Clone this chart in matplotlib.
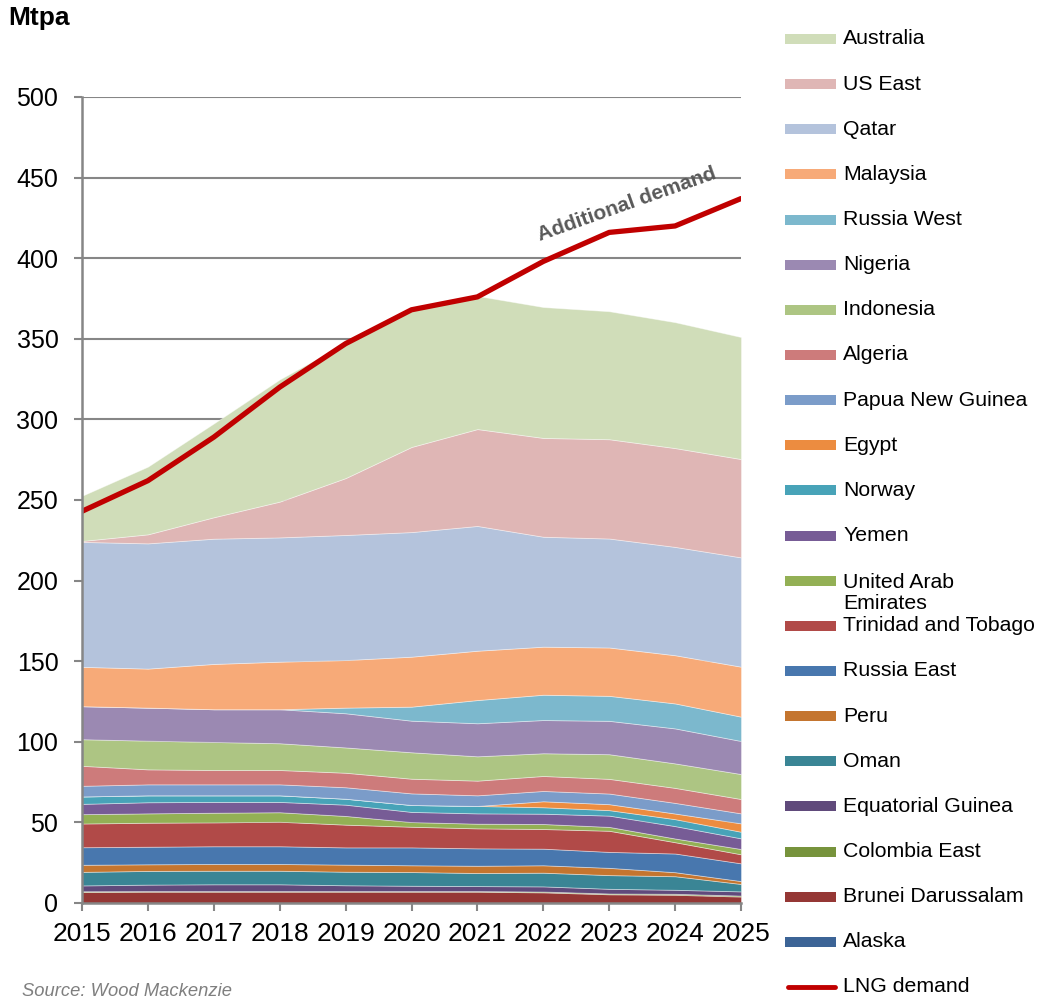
import matplotlib
matplotlib.use("Agg")
import matplotlib.pyplot as plt
from matplotlib.patches import Rectangle
from matplotlib.lines import Line2D

plt.rcParams['font.family'] = ['Liberation Sans', 'DejaVu Sans']

years = [2015, 2016, 2017, 2018, 2019, 2020, 2021, 2022, 2023, 2024, 2025]

# LNG supply by source (Mtpa), listed from the bottom of the stack upwards
alaska = [0, 0, 0, 0, 0, 0, 0, 0, 0, 0, 0]
brunei = [6.8, 7.0, 7.0, 7.0, 7.0, 7.0, 7.0, 6.6, 5.4, 5.1, 4.0]
colombia_east = [0.5, 0.4, 0.4, 0.4, 0.4, 0.4, 0.4, 0.5, 0.5, 0.6, 0.6]
equatorial_guinea = [3.6, 4.0, 4.2, 4.2, 3.6, 3.3, 3.1, 3.2, 2.9, 2.5, 2.6]
oman = [8.4, 8.5, 8.4, 8.4, 8.4, 8.5, 8.1, 8.5, 8.5, 8.4, 4.6]
peru = [4.4, 4.1, 4.2, 4.2, 4.4, 4.2, 4.5, 4.6, 4.5, 2.5, 1.8]
russia_east = [10.9, 10.9, 11.0, 11.0, 10.7, 11.1, 10.8, 10.3, 9.9, 11.6, 11.0]
trinidad = [14.7, 14.9, 14.8, 15.2, 14.1, 12.8, 12.4, 12.2, 13.1, 7.0, 5.6]
uae = [5.8, 5.8, 6.0, 5.9, 5.4, 2.9, 2.9, 3.1, 2.4, 2.3, 3.3]
yemen = [6.4, 6.9, 6.7, 6.4, 7.0, 6.3, 6.4, 6.4, 7.0, 7.7, 6.6]
norway = [4.6, 4.3, 4.1, 4.1, 3.7, 4.3, 4.6, 4.0, 3.4, 4.3, 4.1]
egypt = [0, 0, 0, 0, 0, 0, 0, 3.7, 3.7, 3.5, 5.2]
png = [6.6, 6.8, 6.8, 6.8, 7.1, 7.2, 6.6, 6.4, 6.6, 6.6, 6.2]
algeria = [12.4, 9.3, 8.9, 8.9, 9.0, 9.1, 9.1, 9.3, 9.1, 9.3, 8.9]
indonesia = [16.5, 17.8, 17.4, 16.6, 15.7, 16.4, 15.1, 14.1, 15.3, 15.2, 15.5]
nigeria = [20.5, 20.5, 20.3, 21.1, 21.2, 19.6, 20.5, 20.6, 20.7, 21.7, 20.5]
russia_west = [0, 0, 0, 0, 3.5, 8.7, 14.4, 15.7, 15.5, 15.5, 15.1]
malaysia = [24.4, 24.2, 28.1, 29.5, 29.5, 31.0, 30.6, 29.8, 30.0, 29.9, 31.0]
qatar = [77.5, 77.7, 77.7, 77.1, 77.6, 77.3, 77.4, 68.2, 67.6, 67.2, 67.8]
us_east = [0.6, 5.6, 13.3, 22.2, 35.3, 52.8, 60.1, 61.3, 61.6, 61.3, 61.0]
australia = [28.0, 42.0, 58.2, 75.8, 83.8, 85.1, 82.6, 81.2, 79.4, 78.1, 75.7]

lng_demand = [243, 262, 289, 320, 347, 368, 376, 398, 416, 420, 437]

series_names = ["Alaska", "Brunei Darussalam", "Colombia East", "Equatorial Guinea",
                "Oman", "Peru", "Russia East", "Trinidad and Tobago",
                "United Arab\nEmirates", "Yemen", "Norway", "Egypt",
                "Papua New Guinea", "Algeria", "Indonesia", "Nigeria",
                "Russia West", "Malaysia", "Qatar", "US East", "Australia"]
series_values = [alaska, brunei, colombia_east, equatorial_guinea, oman, peru,
                 russia_east, trinidad, uae, yemen, norway, egypt, png, algeria,
                 indonesia, nigeria, russia_west, malaysia, qatar, us_east,
                 australia]
series_colors = ["#3c6496", "#953735", "#77933c", "#604a7b", "#3a8595", "#c4752f",
                 "#4877ae", "#b14a48", "#93b055", "#775c96", "#48a3b8", "#ec8c40",
                 "#7b9cc9", "#cd7b7b", "#adc583", "#9b89b2", "#7cb8cd", "#f7aa78",
                 "#b4c3dc", "#dfb6b5", "#d0ddb9"]
demand_color = "#c00000"

W, H = 1043, 1001
fig = plt.figure(figsize=(W / 100, H / 100), dpi=100)
ax = fig.add_axes([82 / W, 1 - 903 / H, 659 / W, 806 / H])

grid_gray = "#868686"
ax.set_ylim(0, 500)
ax.set_xlim(years[0], years[-1])
ax.set_yticks(range(0, 501, 50))
ax.set_xticks(years)
ax.yaxis.grid(True, color=grid_gray, linewidth=1.5)
ax.set_axisbelow(True)

ax.stackplot(years, *series_values, colors=series_colors,
             edgecolor=(1, 1, 1, 0.45), linewidth=0.6, zorder=2)
ax.plot(years, lng_demand, color=demand_color, linewidth=3.8,
        solid_capstyle='round', solid_joinstyle='round', zorder=3)

for side in ("top", "right"):
    ax.spines[side].set_visible(False)
for side in ("left", "bottom"):
    ax.spines[side].set_color(grid_gray)
    ax.spines[side].set_linewidth(1.8)
    ax.spines[side].set_zorder(4)

ax.tick_params(axis='y', which='both', direction='out', length=6, width=1.5,
               color=grid_gray, labelsize=18, pad=11, labelcolor='black')
ax.tick_params(axis='x', which='both', direction='out', length=6, width=1.5,
               color=grid_gray, labelsize=19, pad=8, labelcolor='black')

ax.text(2023.27, 433.5, "Additional demand", rotation=19.5, ha='center',
        va='center', fontsize=15, fontweight='bold', color='#595959',
        rotation_mode='anchor')

fig.text(8 / W, 1 - 18 / H, "Mtpa", fontsize=19, fontweight='bold',
         ha='left', va='center')
fig.text(22 / W, 1 - 983 / H, "Source: Wood Mackenzie", fontsize=13.2,
         style='italic', color='#7f7f7f', ha='left', va='top')

# Legend, drawn top to bottom: reverse of stack order, then the demand line
y0, step = 39, 45.14
label_size = 15.3
entries = list(zip(series_names, series_colors))[::-1]
for i, (name, color) in enumerate(entries):
    yc = y0 + i * step
    fig.patches.append(Rectangle((785 / W, 1 - (yc + 5) / H), 51 / W, 10 / H,
                                 transform=fig.transFigure, facecolor=color,
                                 edgecolor='none'))
    nlines = name.count("\n")
    fig.text(843 / W, 1 - (yc + 12.5 * nlines) / H, name, fontsize=label_size,
             ha='left', va='center', linespacing=1.15)
yc = y0 + len(entries) * step
fig.lines.append(Line2D([788 / W, 835 / W], [1 - yc / H, 1 - yc / H],
                        transform=fig.transFigure, color=demand_color,
                        linewidth=3.5, solid_capstyle='round'))
fig.text(843 / W, 1 - yc / H, "LNG demand", fontsize=label_size,
         ha='left', va='center')

fig.savefig("out.png", dpi=100)
